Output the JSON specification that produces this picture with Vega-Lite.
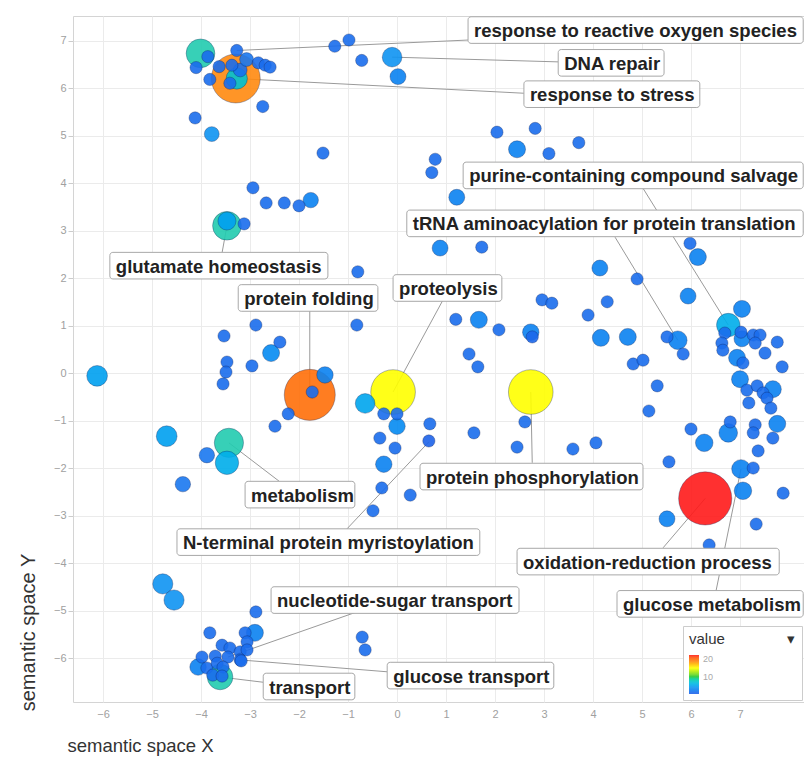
{
  "$schema": "https://vega.github.io/schema/vega-lite/v6.json",
  "autosize": "none",
  "width": 731,
  "height": 686,
  "padding": {"left": 73, "top": 16, "right": 0, "bottom": 59},
  "background": "white",
  "config": {
    "view": {"stroke": "#d4d4d4", "strokeWidth": 1},
    "font": "Liberation Sans",
    "axis": {"gridColor": "#ebebeb", "domain": false, "labelColor": "#a0a0a0", "labelFontSize": 11, "titleFontWeight": "normal", "titleColor": "#333", "labelFont": "Liberation Sans", "titleFont": "Liberation Sans"}
  },
  "datasets": {
    "bubbles": [
      {"x": 6.29, "y": -2.64, "size": 5, "value": 20},
      {"x": -1.78, "y": -0.46, "size": 4.8, "value": 18},
      {"x": -3.29, "y": 6.2, "size": 4.6, "value": 17},
      {"x": -0.08, "y": -0.4, "size": 4.2, "value": 14},
      {"x": 2.73, "y": -0.4, "size": 4.2, "value": 14},
      {"x": -3.43, "y": -1.47, "size": 2.75, "value": 8.5},
      {"x": -4.01, "y": 6.73, "size": 2.7, "value": 8.5},
      {"x": -3.47, "y": 3.1, "size": 2.7, "value": 8.5},
      {"x": -3.61, "y": -6.4, "size": 2.4, "value": 8.5},
      {"x": -3.27, "y": 6.2, "size": 2.0, "value": 7.5},
      {"x": -3.47, "y": -1.89, "size": 2.2, "value": 6.2},
      {"x": 6.76, "y": 1.01, "size": 2.2, "value": 6.2},
      {"x": -6.12, "y": -0.06, "size": 1.95, "value": 5.5},
      {"x": -4.7, "y": -1.33, "size": 1.95, "value": 5.5},
      {"x": -0.65, "y": -0.64, "size": 1.85, "value": 5.8},
      {"x": -4.78, "y": -4.44, "size": 1.9, "value": 5},
      {"x": -4.55, "y": -4.78, "size": 1.9, "value": 5},
      {"x": -0.1, "y": 6.65, "size": 1.85, "value": 5},
      {"x": -3.47, "y": 3.2, "size": 1.7, "value": 5.5},
      {"x": -3.78, "y": 5.03, "size": 1.4, "value": 5},
      {"x": 0.02, "y": 6.24, "size": 1.5, "value": 4},
      {"x": 2.45, "y": 4.71, "size": 1.6, "value": 4},
      {"x": 1.22, "y": 3.7, "size": 1.5, "value": 4},
      {"x": 0.88, "y": 2.63, "size": 1.5, "value": 4},
      {"x": 4.14, "y": 2.21, "size": 1.5, "value": 4},
      {"x": 6.14, "y": 2.44, "size": 1.6, "value": 4},
      {"x": -2.57, "y": 0.42, "size": 1.6, "value": 4.5},
      {"x": -1.47, "y": -0.04, "size": 1.55, "value": 4},
      {"x": -1.76, "y": 3.64, "size": 1.45, "value": 4},
      {"x": 5.94, "y": 1.62, "size": 1.5, "value": 4},
      {"x": 1.67, "y": 1.12, "size": 1.6, "value": 4},
      {"x": 2.73, "y": 0.86, "size": 1.55, "value": 4},
      {"x": 4.16, "y": 0.74, "size": 1.6, "value": 4},
      {"x": 4.71, "y": 0.76, "size": 1.6, "value": 4},
      {"x": 5.73, "y": 0.69, "size": 1.75, "value": 4},
      {"x": 7.04, "y": 1.35, "size": 1.6, "value": 4},
      {"x": 0.0, "y": -1.12, "size": 1.55, "value": 4.5},
      {"x": -0.27, "y": -1.92, "size": 1.55, "value": 4},
      {"x": 6.27, "y": -1.47, "size": 1.65, "value": 4},
      {"x": 6.76, "y": -1.26, "size": 1.75, "value": 4},
      {"x": 7.76, "y": -1.07, "size": 1.6, "value": 4},
      {"x": 7.02, "y": -2.02, "size": 1.75, "value": 4},
      {"x": 7.06, "y": -2.48, "size": 1.65, "value": 4},
      {"x": 5.51, "y": -3.07, "size": 1.5, "value": 4},
      {"x": 7.04, "y": 0.72, "size": 1.5, "value": 4},
      {"x": 6.94, "y": 0.32, "size": 1.6, "value": 4},
      {"x": 7.0, "y": -0.13, "size": 1.6, "value": 4},
      {"x": 7.67, "y": -0.34, "size": 1.6, "value": 4},
      {"x": -2.9, "y": -5.47, "size": 1.6, "value": 4},
      {"x": -4.06, "y": -6.19, "size": 1.55, "value": 4},
      {"x": -3.88, "y": -1.73, "size": 1.45, "value": 3.5},
      {"x": -4.37, "y": -2.34, "size": 1.45, "value": 3.5},
      {"x": -3.2, "y": 6.38, "size": 1.3, "value": 3},
      {"x": -3.07, "y": 6.6, "size": 1.3, "value": 3.5},
      {"x": -3.86, "y": 6.66, "size": 1.15, "value": 2.8},
      {"x": -4.1, "y": 6.43, "size": 1.15, "value": 2.8},
      {"x": -3.82, "y": 6.18, "size": 1.15, "value": 2.8},
      {"x": -3.63, "y": 6.45, "size": 1.15, "value": 2.8},
      {"x": -3.27, "y": 6.79, "size": 1.15, "value": 2.8},
      {"x": -3.37, "y": 6.48, "size": 1.15, "value": 2.8},
      {"x": -3.41, "y": 6.1, "size": 1.15, "value": 2.8},
      {"x": -2.83, "y": 6.53, "size": 1.15, "value": 2.8},
      {"x": -2.69, "y": 6.48, "size": 1.15, "value": 2.8},
      {"x": -2.59, "y": 6.44, "size": 1.15, "value": 2.8},
      {"x": -2.74, "y": 5.61, "size": 1.15, "value": 2.8},
      {"x": -4.12, "y": 5.37, "size": 1.15, "value": 2.8},
      {"x": -1.51, "y": 4.63, "size": 1.15, "value": 2.8},
      {"x": -2.94, "y": 3.9, "size": 1.15, "value": 2.8},
      {"x": -2.67, "y": 3.58, "size": 1.15, "value": 2.8},
      {"x": -2.3, "y": 3.58, "size": 1.15, "value": 2.8},
      {"x": -2.0, "y": 3.52, "size": 1.15, "value": 2.8},
      {"x": -3.12, "y": 3.14, "size": 1.15, "value": 2.8},
      {"x": -1.27, "y": 6.88, "size": 1.15, "value": 2.8},
      {"x": -0.98, "y": 7.01, "size": 1.15, "value": 2.8},
      {"x": -0.72, "y": 6.58, "size": 1.15, "value": 2.8},
      {"x": 2.04, "y": 5.07, "size": 1.15, "value": 2.8},
      {"x": 2.82, "y": 5.15, "size": 1.15, "value": 2.8},
      {"x": 3.1, "y": 4.62, "size": 1.15, "value": 2.8},
      {"x": 3.71, "y": 4.85, "size": 1.15, "value": 2.8},
      {"x": 0.78, "y": 4.5, "size": 1.15, "value": 2.8},
      {"x": 0.71, "y": 4.22, "size": 1.15, "value": 2.8},
      {"x": 1.73, "y": 2.65, "size": 1.15, "value": 2.8},
      {"x": 5.98, "y": 2.73, "size": 1.15, "value": 2.8},
      {"x": -0.8, "y": 2.13, "size": 1.15, "value": 2.8},
      {"x": -0.82, "y": 1.01, "size": 1.15, "value": 2.8},
      {"x": -3.53, "y": 0.78, "size": 1.15, "value": 2.8},
      {"x": -2.88, "y": 1.01, "size": 1.15, "value": 2.8},
      {"x": -2.39, "y": 0.65, "size": 1.15, "value": 2.8},
      {"x": -3.47, "y": 0.23, "size": 1.15, "value": 2.8},
      {"x": -3.49, "y": 0.02, "size": 1.15, "value": 2.8},
      {"x": -3.55, "y": -0.23, "size": 1.15, "value": 2.8},
      {"x": -2.96, "y": 0.15, "size": 1.15, "value": 2.8},
      {"x": -1.73, "y": -0.4, "size": 1.15, "value": 2.8},
      {"x": -2.22, "y": -0.86, "size": 1.15, "value": 2.8},
      {"x": -2.49, "y": -1.12, "size": 1.15, "value": 2.8},
      {"x": -0.27, "y": -0.86, "size": 1.15, "value": 2.8},
      {"x": 0.0, "y": -0.86, "size": 1.15, "value": 2.8},
      {"x": 0.67, "y": -1.07, "size": 1.15, "value": 2.8},
      {"x": 0.65, "y": -1.43, "size": 1.15, "value": 2.2},
      {"x": -0.35, "y": -1.37, "size": 1.15, "value": 2.8},
      {"x": -0.04, "y": -1.58, "size": 1.15, "value": 2.8},
      {"x": -0.31, "y": -2.42, "size": 1.15, "value": 2.8},
      {"x": 0.27, "y": -2.57, "size": 1.15, "value": 2.8},
      {"x": -0.49, "y": -2.9, "size": 1.15, "value": 2.8},
      {"x": 1.65, "y": 0.13, "size": 1.15, "value": 2.8},
      {"x": 1.57, "y": -1.26, "size": 1.15, "value": 2.8},
      {"x": 2.61, "y": -1.03, "size": 1.15, "value": 2.8},
      {"x": 2.96, "y": 1.54, "size": 1.15, "value": 2.8},
      {"x": 3.16, "y": 1.47, "size": 1.15, "value": 2.8},
      {"x": 4.9, "y": 1.98, "size": 1.15, "value": 2.8},
      {"x": 4.29, "y": 1.5, "size": 1.15, "value": 2.8},
      {"x": 1.2, "y": 1.13, "size": 1.15, "value": 2.8},
      {"x": 2.08, "y": 0.91, "size": 1.15, "value": 2.8},
      {"x": 2.76, "y": 0.76, "size": 1.15, "value": 2.5},
      {"x": 3.9, "y": 1.22, "size": 1.15, "value": 2.8},
      {"x": 5.51, "y": 0.76, "size": 1.15, "value": 2.8},
      {"x": 5.84, "y": 0.4, "size": 1.15, "value": 2.8},
      {"x": 4.82, "y": 0.19, "size": 1.15, "value": 2.8},
      {"x": 5.02, "y": 0.27, "size": 1.15, "value": 2.8},
      {"x": 1.47, "y": 0.4, "size": 1.15, "value": 2.8},
      {"x": 5.31, "y": -0.27, "size": 1.15, "value": 2.8},
      {"x": 5.14, "y": -0.8, "size": 1.15, "value": 2.8},
      {"x": 2.45, "y": -1.56, "size": 1.15, "value": 2.8},
      {"x": 3.59, "y": -1.6, "size": 1.15, "value": 2.8},
      {"x": 4.06, "y": -1.47, "size": 1.15, "value": 2.8},
      {"x": 5.55, "y": -1.87, "size": 1.15, "value": 2.8},
      {"x": 6.0, "y": -1.18, "size": 1.15, "value": 2.8},
      {"x": 6.69, "y": 0.84, "size": 1.15, "value": 2.8},
      {"x": 7.02, "y": 0.86, "size": 1.15, "value": 2.8},
      {"x": 6.63, "y": 0.63, "size": 1.15, "value": 2.8},
      {"x": 6.65, "y": 0.48, "size": 1.15, "value": 2.8},
      {"x": 7.27, "y": 0.8, "size": 1.15, "value": 2.8},
      {"x": 7.41, "y": 0.8, "size": 1.15, "value": 2.8},
      {"x": 7.31, "y": 0.63, "size": 1.15, "value": 2.8},
      {"x": 7.76, "y": 0.65, "size": 1.15, "value": 2.8},
      {"x": 7.51, "y": 0.42, "size": 1.15, "value": 2.8},
      {"x": 7.06, "y": 0.21, "size": 1.15, "value": 2.8},
      {"x": 7.86, "y": 0.13, "size": 1.15, "value": 2.8},
      {"x": 7.14, "y": -0.36, "size": 1.15, "value": 2.8},
      {"x": 7.35, "y": -0.27, "size": 1.15, "value": 2.8},
      {"x": 7.47, "y": -0.42, "size": 1.15, "value": 2.8},
      {"x": 7.18, "y": -0.63, "size": 1.15, "value": 2.8},
      {"x": 7.55, "y": -0.53, "size": 1.15, "value": 2.8},
      {"x": 7.63, "y": -0.74, "size": 1.15, "value": 2.8},
      {"x": 6.8, "y": -1.03, "size": 1.15, "value": 2.8},
      {"x": 7.31, "y": -1.09, "size": 1.15, "value": 2.8},
      {"x": 7.27, "y": -1.26, "size": 1.15, "value": 2.8},
      {"x": 7.67, "y": -1.37, "size": 1.15, "value": 2.8},
      {"x": 7.37, "y": -1.64, "size": 1.15, "value": 2.8},
      {"x": 7.27, "y": -2.0, "size": 1.15, "value": 2.8},
      {"x": 7.88, "y": -2.53, "size": 1.15, "value": 2.8},
      {"x": 7.33, "y": -3.18, "size": 1.15, "value": 2.8},
      {"x": 6.37, "y": -3.62, "size": 1.15, "value": 2.8},
      {"x": -2.88, "y": -5.03, "size": 1.15, "value": 2.8},
      {"x": -3.82, "y": -5.47, "size": 1.15, "value": 2.8},
      {"x": -3.1, "y": -5.47, "size": 1.15, "value": 2.8},
      {"x": -3.06, "y": -5.66, "size": 1.15, "value": 2.8},
      {"x": -3.57, "y": -5.73, "size": 1.15, "value": 2.8},
      {"x": -3.41, "y": -5.79, "size": 1.15, "value": 2.8},
      {"x": -3.2, "y": -5.87, "size": 1.15, "value": 2.8},
      {"x": -3.06, "y": -5.83, "size": 1.15, "value": 2.8},
      {"x": -3.98, "y": -5.98, "size": 1.15, "value": 2.8},
      {"x": -3.45, "y": -5.98, "size": 1.15, "value": 2.8},
      {"x": -3.2, "y": -6.04, "size": 1.15, "value": 2.8},
      {"x": -3.71, "y": -5.96, "size": 1.15, "value": 2.8},
      {"x": -3.88, "y": -6.21, "size": 1.15, "value": 2.8},
      {"x": -3.67, "y": -6.11, "size": 1.15, "value": 2.8},
      {"x": -3.55, "y": -6.19, "size": 1.15, "value": 2.8},
      {"x": -3.76, "y": -6.36, "size": 1.15, "value": 2.8},
      {"x": -3.57, "y": -6.38, "size": 1.15, "value": 2.8},
      {"x": -3.18, "y": -6.06, "size": 1.15, "value": 2.8},
      {"x": -0.71, "y": -5.56, "size": 1.15, "value": 2.8},
      {"x": -0.65, "y": -5.83, "size": 1.15, "value": 2.8}
    ],
    "labels": [
      {"label": "response to reactive oxygen species", "px": -3.27, "py": 6.79, "ax": 1.45, "ay": 7.01, "lx": 1.45, "rx": 8.29, "ly": 7.22},
      {"label": "DNA repair", "px": -0.1, "py": 6.65, "ax": 3.29, "ay": 6.55, "lx": 3.29, "rx": 5.45, "ly": 6.53},
      {"label": "response to stress", "px": -3.29, "py": 6.2, "ax": 2.59, "ay": 5.89, "lx": 2.59, "rx": 6.18, "ly": 5.87},
      {"label": "purine-containing compound salvage", "px": 6.76, "py": 1.01, "ax": 5.02, "ay": 3.89, "lx": 1.35, "rx": 8.29, "ly": 4.16},
      {"label": "tRNA aminoacylation for protein translation", "px": 5.73, "py": 0.69, "ax": 4.45, "ay": 2.86, "lx": 0.2, "rx": 8.29, "ly": 3.15},
      {"label": "glutamate homeostasis", "px": -3.47, "py": 3.1, "ax": -3.57, "ay": 2.53, "lx": -5.86, "rx": -1.41, "ly": 2.26},
      {"label": "protein folding", "px": -1.78, "py": -0.46, "ax": -1.78, "ay": 1.31, "lx": -3.24, "rx": -0.39, "ly": 1.58},
      {"label": "proteolysis", "px": -0.08, "py": -0.4, "ax": 0.94, "ay": 1.54, "lx": -0.08, "rx": 2.14, "ly": 1.79},
      {"label": "protein phosphorylation", "px": 2.73, "py": -0.4, "ax": 2.76, "ay": -1.89, "lx": 0.47, "rx": 5.02, "ly": -2.18},
      {"label": "metabolism", "px": -3.43, "py": -1.47, "ax": -2.39, "ay": -2.29, "lx": -3.1, "rx": -0.86, "ly": -2.56},
      {"label": "N-terminal protein myristoylation", "px": 0.65, "py": -1.45, "ax": -1.02, "ay": -3.28, "lx": -4.49, "rx": 1.69, "ly": -3.56},
      {"label": "oxidation-reduction process", "px": 6.29, "py": -2.64, "ax": 5.43, "ay": -3.68, "lx": 2.45, "rx": 7.8, "ly": -3.97},
      {"label": "glucose metabolism", "px": 7.02, "py": -2.02, "ax": 6.51, "ay": -4.59, "lx": 4.49, "rx": 8.29, "ly": -4.86},
      {"label": "nucleotide-sugar transport", "px": -3.45, "py": -5.98, "ax": -0.82, "ay": -5.03, "lx": -2.57, "rx": 2.49, "ly": -4.78},
      {"label": "glucose transport", "px": -3.2, "py": -6.04, "ax": -0.2, "ay": -6.29, "lx": -0.2, "rx": 3.2, "ly": -6.37},
      {"label": "transport", "px": -3.61, "py": -6.4, "ax": -2.73, "ay": -6.51, "lx": -2.73, "rx": -0.86, "ly": -6.6}
    ]
  },
  "layer": [
    {
      "data": {"name": "labels"},
      "mark": {"type": "rule", "color": "#9a9a9a", "strokeWidth": 1},
      "encoding": {
        "x": {"field": "px", "type": "quantitative", "scale": {"domain": [-6.612, 8.306], "nice": false, "zero": false},
          "axis": {"values": [-6,-5,-4,-3,-2,-1,0,1,2,3,4,5,6,7], "ticks": false, "labelPadding": 6, "title": "semantic space X", "titleFontSize": 18.5, "titleAlign": "left", "titleBaseline": "middle", "titleX": -6, "titleY": 43}},
        "y": {"field": "py", "type": "quantitative", "scale": {"domain": [-6.926, 7.516], "nice": false, "zero": false},
          "axis": {"values": [-6,-5,-4,-3,-2,-1,0,1,2,3,4,5,6,7], "ticks": true, "tickSize": 5, "tickColor": "#cccccc", "labelPadding": 2, "title": "semantic space Y", "titleFontSize": 20, "titleAngle": -90, "titleAlign": "center", "titleBaseline": "middle", "titleX": -45, "titleY": 616}},
        "x2": {"field": "ax"},
        "y2": {"field": "ay"}
      }
    },
    {
      "data": {"name": "bubbles"},
      "mark": {"type": "circle", "opacity": 0.9, "stroke": "#0a1a50", "strokeWidth": 1, "strokeOpacity": 0.35},
      "encoding": {
        "x": {"field": "x", "type": "quantitative"},
        "y": {"field": "y", "type": "quantitative"},
        "size": {"field": "size", "type": "quantitative", "scale": {"type": "pow", "exponent": 2, "domain": [0, 5], "range": [0, 2827]}, "legend": null},
        "color": {"field": "value", "type": "quantitative",
          "scale": {"domain": [2, 3.5, 5, 6.5, 8.5, 10, 14, 17, 20], "range": ["#2060e8", "#1a78f0", "#0f94f2", "#12b4e8", "#22ccb0", "#22c832", "#ffff00", "#ff8a10", "#ff1a1a"]},
          "legend": {"type": "gradient", "orient": "bottom-right", "offset": 2, "title": "value\u00a0\u00a0\u00a0\u00a0\u00a0\u00a0\u00a0\u00a0\u00a0\u00a0\u00a0\u00a0\u00a0\u00a0\u00a0\u25be", "titleFontSize": 15, "titleFontWeight": "normal", "titleColor": "#333", "titlePadding": 8, "gradientLength": 39, "gradientThickness": 10, "gradientStrokeWidth": 0, "values": [10, 20], "labelFontSize": 9, "labelColor": "#aaa", "labelOffset": 4, "fillColor": "white", "strokeColor": "#cccccc", "padding": 6, "direction": "vertical"}},
        "order": {"field": "size", "sort": "descending"}
      }
    },
    {
      "data": {"name": "labels"},
      "transform": [{"calculate": "datum.ly + 0.28", "as": "ytop"}, {"calculate": "datum.ly - 0.28", "as": "ybot"}],
      "mark": {"type": "rect", "fill": "#000", "opacity": 0.15, "cornerRadius": 3, "xOffset": 1.5, "yOffset": 2},
      "encoding": {
        "x": {"field": "lx", "type": "quantitative"},
        "x2": {"field": "rx"},
        "y": {"field": "ytop", "type": "quantitative"},
        "y2": {"field": "ybot"}
      }
    },
    {
      "data": {"name": "labels"},
      "transform": [{"calculate": "datum.ly + 0.28", "as": "ytop"}, {"calculate": "datum.ly - 0.28", "as": "ybot"}],
      "mark": {"type": "rect", "fill": "white", "stroke": "#a8a8a8", "strokeWidth": 1, "cornerRadius": 3},
      "encoding": {
        "x": {"field": "lx", "type": "quantitative"},
        "x2": {"field": "rx"},
        "y": {"field": "ytop", "type": "quantitative"},
        "y2": {"field": "ybot"}
      }
    },
    {
      "data": {"name": "labels"},
      "mark": {"type": "text", "align": "left", "baseline": "middle", "dx": 6, "dy": 1, "font": "Liberation Sans", "fontWeight": "bold", "fontSize": 18.5, "color": "#222"},
      "encoding": {
        "x": {"field": "lx", "type": "quantitative"},
        "y": {"field": "ly", "type": "quantitative"},
        "text": {"field": "label"}
      }
    }
  ]
}
